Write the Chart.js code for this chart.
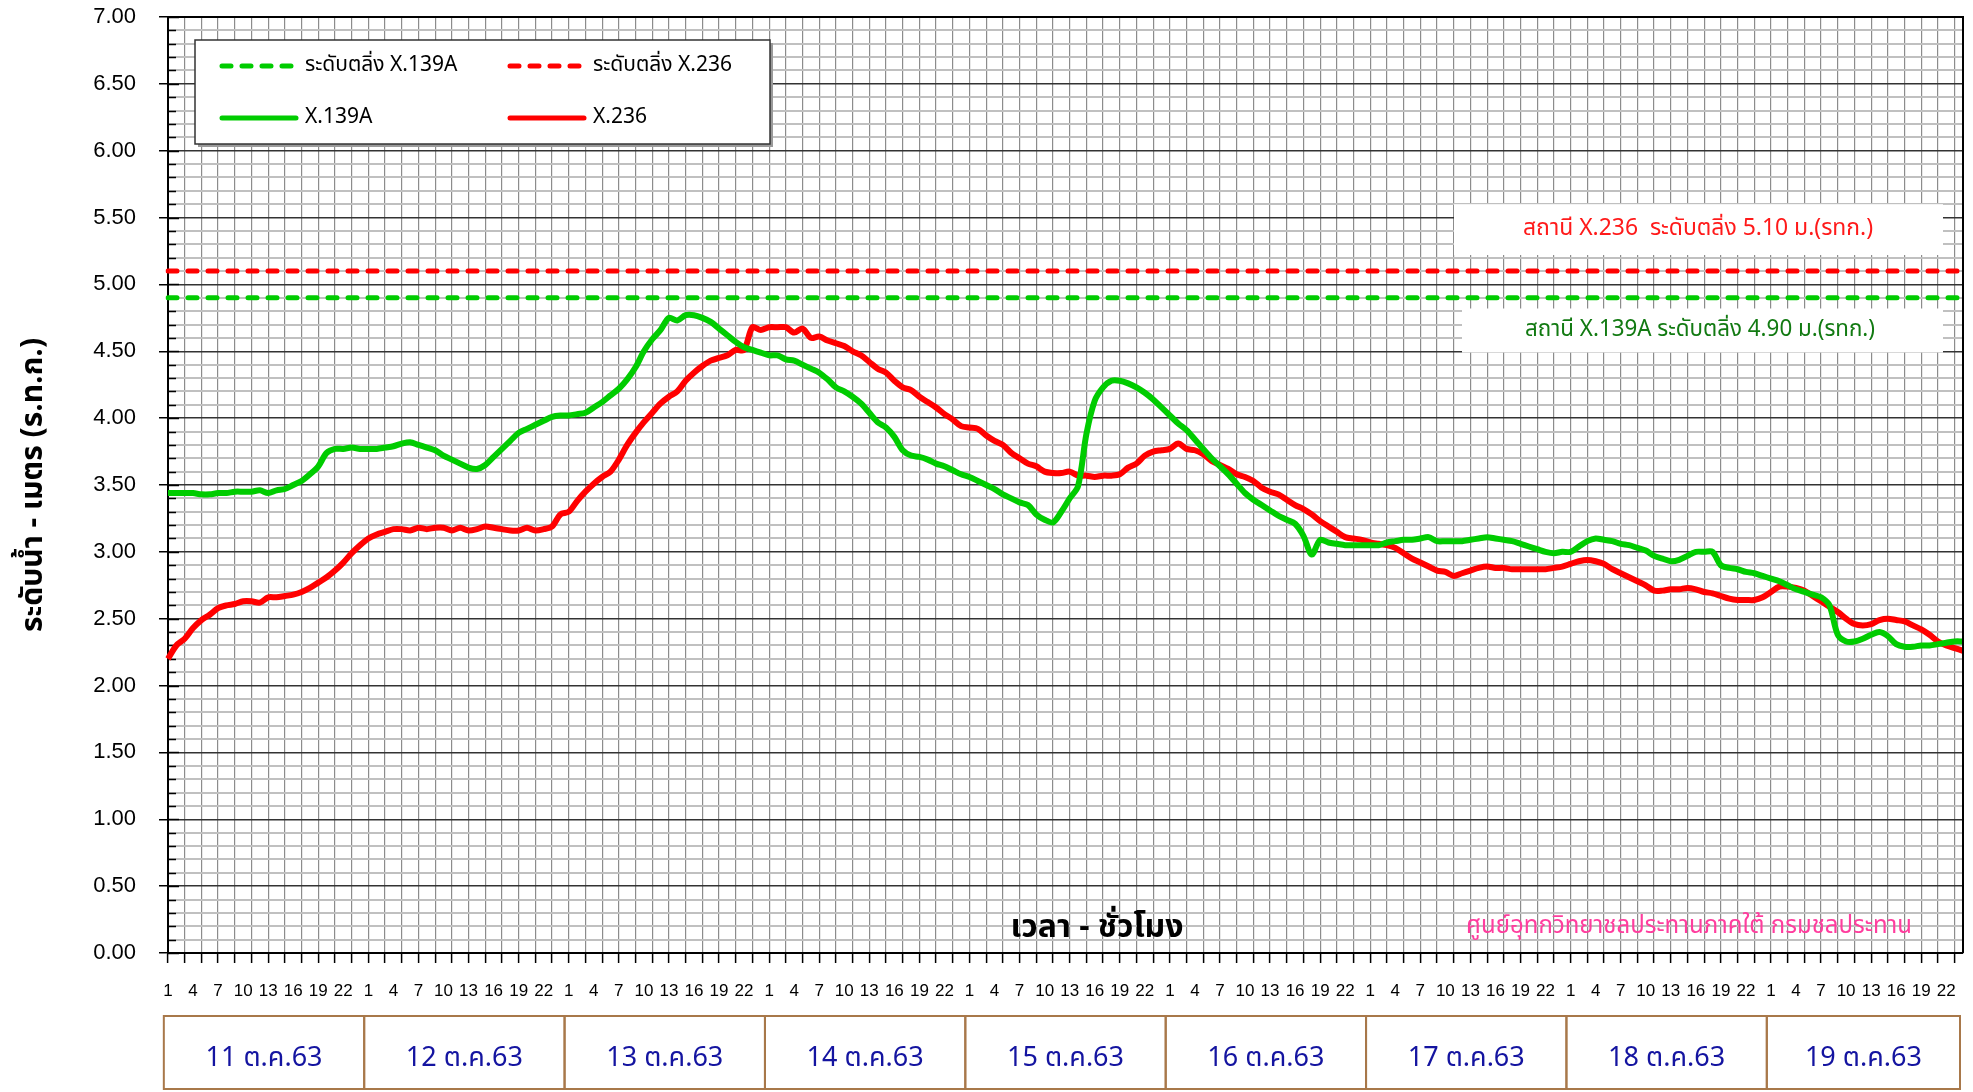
<!DOCTYPE html>
<html lang="th">
<head>
<meta charset="utf-8">
<title>ระดับน้ำ X.139A และ X.236</title>
<script src="https://cdn.jsdelivr.net/npm/chart.js@4.4.1/dist/chart.umd.min.js"></script>
<style>
    html, body { margin: 0; padding: 0; background: #fff; }
    #wrap { position: relative; width: 1973px; height: 1092px; }
</style>
</head>
<body>
<div id="wrap"><canvas id="levelChart"></canvas></div>
<script>
// ข้อมูลระดับน้ำรายชั่วโมง (ม.รทก.)
const days = ['11 ต.ค.63', '12 ต.ค.63', '13 ต.ค.63', '14 ต.ค.63', '15 ต.ค.63', '16 ต.ค.63', '17 ต.ค.63', '18 ต.ค.63', '19 ต.ค.63'];
const hours = [1, 2, 3, 4, 5, 6, 7, 8, 9, 10, 11, 12, 13, 14, 15, 16, 17, 18, 19, 20, 21, 22, 23, 24];
const hourTicks = [1, 4, 7, 10, 13, 16, 19, 22];
const yMajorStep = 0.5;

const levelX139A = [
    3.44, 3.44, 3.44, 3.44, 3.43, 3.43, 3.44, 3.44, 3.45, 3.45, 3.45, 3.46, 3.44, 3.46, 3.47, 3.50, 3.53, 3.58, 3.64, 3.74, 3.77, 3.77, 3.78, 3.77,
    3.77, 3.77, 3.78, 3.79, 3.81, 3.82, 3.80, 3.78, 3.76, 3.72, 3.69, 3.66, 3.63, 3.62, 3.65, 3.71, 3.77, 3.83, 3.89, 3.92, 3.95, 3.98, 4.01, 4.02,
    4.02, 4.03, 4.04, 4.08, 4.12, 4.17, 4.22, 4.29, 4.38, 4.50, 4.59, 4.66, 4.75, 4.73, 4.77, 4.77, 4.75, 4.72, 4.67, 4.62, 4.57, 4.53, 4.51, 4.49,
    4.47, 4.47, 4.44, 4.43, 4.40, 4.37, 4.34, 4.29, 4.23, 4.20, 4.16, 4.11, 4.04, 3.97, 3.93, 3.86, 3.76, 3.72, 3.71, 3.69, 3.66, 3.64, 3.61, 3.58,
    3.56, 3.53, 3.50, 3.47, 3.43, 3.40, 3.37, 3.35, 3.28, 3.24, 3.22, 3.30, 3.40, 3.49, 3.88, 4.13, 4.23, 4.28, 4.28, 4.26, 4.23, 4.19, 4.14, 4.08,
    4.02, 3.96, 3.91, 3.84, 3.77, 3.70, 3.64, 3.58, 3.51, 3.44, 3.39, 3.35, 3.31, 3.27, 3.24, 3.21, 3.12, 2.98, 3.09, 3.07, 3.06, 3.05, 3.05, 3.05,
    3.05, 3.05, 3.07, 3.08, 3.09, 3.09, 3.10, 3.11, 3.08, 3.08, 3.08, 3.08, 3.09, 3.10, 3.11, 3.10, 3.09, 3.08, 3.06, 3.04, 3.02, 3.00, 2.99, 3.00,
    3.00, 3.04, 3.08, 3.10, 3.09, 3.08, 3.06, 3.05, 3.03, 3.01, 2.97, 2.95, 2.93, 2.94, 2.97, 3.00, 3.00, 3.00, 2.90, 2.88, 2.87, 2.85, 2.84, 2.82,
    2.80, 2.78, 2.75, 2.72, 2.70, 2.68, 2.66, 2.60, 2.38, 2.33, 2.33, 2.35, 2.38, 2.40, 2.37, 2.31, 2.29, 2.29, 2.30, 2.30, 2.31, 2.32, 2.33, 2.33
];

const levelX236 = [
    2.20, 2.30, 2.35, 2.43, 2.49, 2.53, 2.58, 2.60, 2.61, 2.63, 2.63, 2.62, 2.66, 2.66, 2.67, 2.68, 2.70, 2.73, 2.77, 2.81, 2.86, 2.92, 2.99, 3.05,
    3.10, 3.13, 3.15, 3.17, 3.17, 3.16, 3.18, 3.17, 3.18, 3.18, 3.16, 3.18, 3.16, 3.17, 3.19, 3.18, 3.17, 3.16, 3.16, 3.18, 3.16, 3.17, 3.19, 3.28,
    3.30, 3.38, 3.45, 3.51, 3.56, 3.60, 3.69, 3.80, 3.89, 3.97, 4.04, 4.11, 4.16, 4.20, 4.28, 4.34, 4.39, 4.43, 4.45, 4.47, 4.51, 4.51, 4.68, 4.66,
    4.68, 4.68, 4.68, 4.64, 4.67, 4.60, 4.61, 4.58, 4.56, 4.54, 4.50, 4.47, 4.42, 4.37, 4.34, 4.28, 4.23, 4.21, 4.16, 4.12, 4.08, 4.03, 3.99, 3.94,
    3.93, 3.92, 3.87, 3.83, 3.80, 3.74, 3.70, 3.66, 3.64, 3.60, 3.59, 3.59, 3.60, 3.57, 3.57, 3.56, 3.57, 3.57, 3.58, 3.63, 3.66, 3.72, 3.75, 3.76,
    3.77, 3.81, 3.77, 3.76, 3.73, 3.68, 3.65, 3.62, 3.58, 3.56, 3.53, 3.48, 3.45, 3.43, 3.39, 3.35, 3.32, 3.28, 3.23, 3.19, 3.15, 3.11, 3.10, 3.09,
    3.07, 3.06, 3.05, 3.03, 2.99, 2.95, 2.92, 2.89, 2.86, 2.85, 2.82, 2.84, 2.86, 2.88, 2.89, 2.88, 2.88, 2.87, 2.87, 2.87, 2.87, 2.87, 2.88, 2.89,
    2.91, 2.93, 2.94, 2.93, 2.91, 2.87, 2.84, 2.81, 2.78, 2.75, 2.71, 2.71, 2.72, 2.72, 2.73, 2.72, 2.70, 2.69, 2.67, 2.65, 2.64, 2.64, 2.64, 2.66,
    2.70, 2.74, 2.74, 2.73, 2.71, 2.67, 2.63, 2.59, 2.55, 2.50, 2.46, 2.45, 2.46, 2.49, 2.50, 2.49, 2.48, 2.45, 2.42, 2.38, 2.33, 2.30, 2.28, 2.26
];

// ระดับตลิ่ง
const bankX139A = 4.90;
const bankX236 = 5.10;

const GREEN = '#00cc00';
const RED = '#ff0000';
const THAI = "'Noto Sans Thai', 'Noto Sans', 'DejaVu Sans', sans-serif";
const LATIN = "'Liberation Sans', Arial, sans-serif";

const labels = [];
days.forEach(d => hours.forEach(h => labels.push(d + ' ' + h)));
const firstLabel = labels[0];
const lastLabel = labels[labels.length - 1];

function isMajor(v) {
    return Math.abs(v / yMajorStep - Math.round(v / yMajorStep)) < 1e-6;
}

// ตกแต่งกราฟ: กรอบ, คำอธิบาย, กล่องวันที่
const decorPlugin = {
    id: 'decor',
    beforeDatasetsDraw(chart) {
        const {ctx, chartArea: a, scales: {y}} = chart;
        ctx.save();

        // ขีดย่อยด้านในแกน Y
        ctx.strokeStyle = '#000';
        ctx.lineWidth = 1.5;
        y.ticks.forEach(t => {
            const py = Math.round(y.getPixelForValue(t.value)) + 0.5;
            ctx.beginPath();
            ctx.moveTo(a.left, py);
            ctx.lineTo(a.left + (isMajor(t.value) ? 11 : 8), py);
            ctx.stroke();
        });

        // กล่องข้อความระดับตลิ่ง
        ctx.fillStyle = '#fff';
        const t1 = y.getPixelForValue(5.60), b1 = y.getPixelForValue(5.22);
        ctx.fillRect(a.right - 509, t1, 489, b1 - t1);
        const t2 = y.getPixelForValue(4.82), b2 = y.getPixelForValue(4.49);
        ctx.fillRect(a.right - 501, t2, 481, b2 - t2);

        ctx.textAlign = 'center';
        ctx.textBaseline = 'middle';
        ctx.font = '23px ' + THAI;
        ctx.fillStyle = '#ff1a1a';
        ctx.fillText('สถานี X.236  ระดับตลิ่ง 5.10 ม.(รทก.)', a.right - 265, (t1 + b1) / 2 + 1, 350);
        ctx.fillStyle = '#127a12';
        ctx.fillText('สถานี X.139A ระดับตลิ่ง 4.90 ม.(รทก.)', a.right - 263, (t2 + b2) / 2 + 1, 350);

        // ข้อความในพื้นที่กราฟ
        ctx.font = 'bold 32px ' + THAI;
        ctx.fillStyle = '#000';
        ctx.fillText('เวลา - ชั่วโมง', a.left + 929, a.bottom - 22, 174);
        ctx.font = '24px ' + THAI;
        ctx.fillStyle = '#ff3d9e';
        ctx.fillText('ศูนย์อุทกวิทยาชลประทานภาคใต้ กรมชลประทาน', a.left + 1521, a.bottom - 25, 446);
        ctx.restore();
    },
    afterDraw(chart) {
        const {ctx, chartArea: a, scales: {x}} = chart;
        ctx.save();

        // กรอบด้านบนและขวา
        ctx.strokeStyle = '#000';
        ctx.lineWidth = 2;
        ctx.beginPath();
        ctx.moveTo(a.left, a.top);
        ctx.lineTo(a.right, a.top);
        ctx.lineTo(a.right, a.bottom);
        ctx.stroke();

        // คำอธิบายสัญลักษณ์
        const lx = a.left + 27, ly = a.top + 23, lw = 575, lh = 104;
        ctx.fillStyle = '#9a9a9a';
        ctx.fillRect(lx + 3, ly + 3, lw, lh);
        ctx.fillStyle = '#fff';
        ctx.fillRect(lx, ly, lw, lh);
        ctx.strokeStyle = '#333';
        ctx.lineWidth = 1.5;
        ctx.strokeRect(lx, ly, lw, lh);

        const items = chart.data.datasets.map(ds => ({
            text: ds.label, color: ds.borderColor, dash: ds.borderDash || []
        }));
        const cols = [lx + 27, lx + 315];
        const rows = [ly + 26, ly + 78];
        ctx.font = '21px ' + THAI;
        ctx.textAlign = 'left';
        ctx.textBaseline = 'middle';
        ctx.lineCap = 'round';
        items.forEach((it, i) => {
            const cx = cols[i % 2], cy = rows[Math.floor(i / 2)];
            ctx.strokeStyle = it.color;
            ctx.lineWidth = 5;
            ctx.setLineDash(it.dash);
            ctx.beginPath();
            ctx.moveTo(cx, cy);
            ctx.lineTo(cx + 74, cy);
            ctx.stroke();
            ctx.setLineDash([]);
            ctx.fillStyle = '#000';
            ctx.fillText(it.text, cx + 83, cy + 1);
        });

        // กล่องวันที่ใต้แกน X
        const boxTop = 1016, boxBottom = 1089;
        ctx.lineCap = 'butt';
        ctx.strokeStyle = '#a8784a';
        ctx.lineWidth = 2;
        ctx.font = '27px ' + THAI;
        ctx.textAlign = 'center';
        days.forEach((d, i) => {
            const x0 = Math.max(x.getPixelForValue(i * 24 - 0.5), a.left - 6);
            const x1 = Math.min(x.getPixelForValue(i * 24 + 23.5), a.right - 3);
            ctx.strokeRect(x0, boxTop, x1 - x0, boxBottom - boxTop);
            ctx.fillStyle = '#1414a0';
            ctx.fillText(d, (x0 + x1) / 2, (boxTop + boxBottom) / 2 + 8);
        });
        ctx.restore();
    }
};

const ctx = document.getElementById('levelChart').getContext('2d');
new Chart(ctx, {
    type: 'line',
    data: {
        labels: labels,
        datasets: [
            {
                label: 'ระดับตลิ่ง X.139A',
                data: [{x: firstLabel, y: bankX139A}, {x: lastLabel, y: bankX139A}],
                borderColor: GREEN,
                borderWidth: 5,
                borderDash: [9, 11],
                borderCapStyle: 'round',
                pointRadius: 0
            },
            {
                label: 'ระดับตลิ่ง X.236',
                data: [{x: firstLabel, y: bankX236}, {x: lastLabel, y: bankX236}],
                borderColor: RED,
                borderWidth: 5,
                borderDash: [9, 11],
                borderCapStyle: 'round',
                pointRadius: 0
            },
            {
                label: 'X.139A',
                data: levelX139A,
                borderColor: GREEN,
                borderWidth: 6,
                tension: 0.3,
                pointRadius: 0
            },
            {
                label: 'X.236',
                data: levelX236,
                borderColor: RED,
                borderWidth: 6,
                tension: 0.3,
                pointRadius: 0
            }
        ]
    },
    options: {
        responsive: true,
        maintainAspectRatio: false,
        animation: false,
        layout: {
            padding: { top: 17, right: 10, left: 0, bottom: 0 }
        },
        plugins: {
            legend: { display: false },
            tooltip: { enabled: false }
        },
        scales: {
            x: {
                type: 'category',
                offset: false,
                afterFit: s => { s.height = 139; s.paddingLeft = 0; s.paddingRight = 0; },
                border: { display: true, color: '#000', width: 2 },
                grid: {
                    color: c => (c.index % 2 === 0 ? '#8c8c8c' : 'rgba(0,0,0,0)'),
                    lineWidth: 1.2,
                    drawTicks: true,
                    tickLength: 10,
                    tickColor: c => (c.index % 2 === 0 ? '#000' : 'rgba(0,0,0,0)'),
                    tickWidth: 1.5
                },
                ticks: {
                    autoSkip: false,
                    maxRotation: 0,
                    minRotation: 0,
                    padding: 18,
                    color: '#000',
                    font: { family: "'Liberation Sans Narrow', 'Arial Narrow', 'Liberation Sans', sans-serif", size: 17 },
                    callback: function (val, i) {
                        const h = hours[i % 24];
                        return hourTicks.includes(h) ? String(h) : '';
                    }
                }
            },
            y: {
                min: 0,
                max: 7,
                afterFit: s => { s.width = 168; s.paddingTop = 0; s.paddingBottom = 0; },
                border: { display: true, color: '#000', width: 2 },
                grid: {
                    color: c => (isMajor(c.tick.value) ? '#333333' : '#c0c0c0'),
                    lineWidth: c => (isMajor(c.tick.value) ? 1.5 : 2),
                    drawTicks: true,
                    tickLength: 9,
                    tickColor: c => (isMajor(c.tick.value) ? '#000' : 'rgba(0,0,0,0)'),
                    tickWidth: 1.5
                },
                ticks: {
                    stepSize: 0.1,
                    maxTicksLimit: 100,
                    autoSkip: false,
                    padding: 23,
                    color: '#000',
                    font: { family: LATIN, size: 22 },
                    callback: v => (isMajor(v) ? Number(v).toFixed(2) : '')
                },
                title: {
                    display: true,
                    text: 'ระดับน้ำ - เมตร (ร.ท.ก.)',
                    color: '#000',
                    font: { family: THAI, size: 30, weight: 'bold' },
                    padding: { top: 18, bottom: 0 }
                }
            }
        }
    },
    plugins: [decorPlugin]
});
</script>
</body>
</html>
